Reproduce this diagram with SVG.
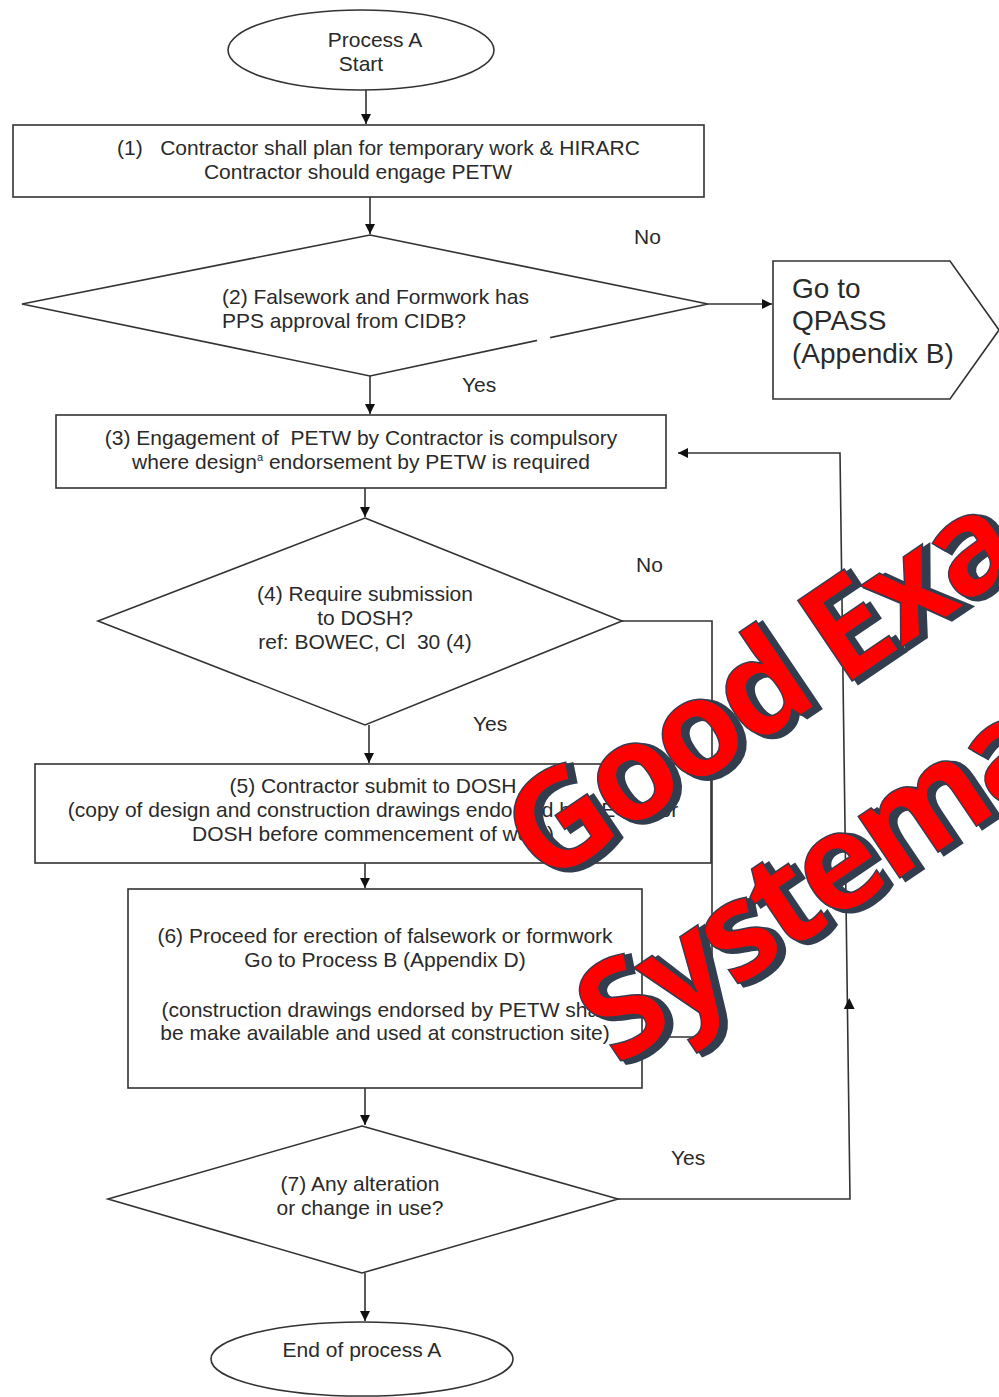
<svg xmlns="http://www.w3.org/2000/svg" width="999" height="1397" viewBox="0 0 999 1397">
<style>
.shape{fill:#fff;stroke:#333;stroke-width:1.6}
.line{fill:none;stroke:#333;stroke-width:1.6}
.t{font-family:"Liberation Sans",Arial,sans-serif;font-size:21px;fill:#2a2a2a}
.c{text-anchor:middle}
.big{font-family:"Liberation Sans",Arial,sans-serif;font-size:28px;fill:#2a2a2a}
.wm{font-family:"Open Sans","Liberation Sans",sans-serif;font-weight:bold;font-size:136px;letter-spacing:-6px}
.wms{fill:#323e4f;stroke:#323e4f;stroke-width:4}
.wmf{fill:#ff0000;stroke:#323e4f;stroke-width:1.5}
</style>
<defs>
<marker id="ah" viewBox="0 0 10 10" refX="10" refY="5" markerWidth="10" markerHeight="10" markerUnits="userSpaceOnUse" orient="auto">
<path d="M0,0 L10,5 L0,10 z" fill="#111"/>
</marker>
</defs>

<g id="connectors">
<line class="line" x1="366" y1="90" x2="366" y2="124" marker-end="url(#ah)"/>
<line class="line" x1="370" y1="197" x2="370" y2="234" marker-end="url(#ah)"/>
<line class="line" x1="708" y1="304" x2="772" y2="304" marker-end="url(#ah)"/>
<line class="line" x1="370" y1="376" x2="370" y2="414" marker-end="url(#ah)"/>
<line class="line" x1="365" y1="488" x2="365" y2="517" marker-end="url(#ah)"/>
<polyline class="line" points="622,621 712,621 712,1037 642,1037" marker-end="url(#ah)"/>
<line class="line" x1="369" y1="725" x2="369" y2="763" marker-end="url(#ah)"/>
<line class="line" x1="365" y1="863" x2="365" y2="888" marker-end="url(#ah)"/>
<line class="line" x1="365" y1="1088" x2="365" y2="1125" marker-end="url(#ah)"/>
<line class="line" x1="365" y1="1273" x2="365" y2="1321" marker-end="url(#ah)"/>
<polyline class="line" points="618,1199 850,1199 840,453 678,453" marker-end="url(#ah)"/>
<polygon points="849.2,998 843.8,1009 854.6,1009" fill="#111"/>
</g>

<g id="start">
<ellipse class="shape" cx="361" cy="50" rx="133" ry="40"/>
<text class="t c" x="375" y="47">Process A</text>
<text class="t c" x="361" y="71">Start</text>
</g>

<g id="step1">
<rect class="shape" x="13" y="125" width="691" height="72"/>
<text class="t" x="117" y="155" xml:space="preserve">(1)   Contractor shall plan for temporary work &amp; HIRARC</text>
<text class="t c" x="358" y="179">Contractor should engage PETW</text>
</g>

<g id="decision2">
<polygon class="shape" points="370,235 708,304 370,376 22,304"/>
<line x1="537" y1="340" x2="550" y2="337" stroke="#fff" stroke-width="4"/>
<text class="t" x="222" y="304">(2) Falsework and Formwork has</text>
<text class="t" x="222" y="328">PPS approval from CIDB?</text>
<text class="t" x="634" y="244">No</text>
<text class="t" x="462" y="392">Yes</text>
</g>

<g id="qpass">
<polygon class="shape" points="773,261 950,261 999,330 950,399 773,399"/>
<text class="big" x="792" y="298">Go to</text>
<text class="big" x="792" y="330">QPASS</text>
<text class="big" x="792" y="363">(Appendix B)</text>
</g>

<g id="step3">
<rect class="shape" x="56" y="415" width="610" height="73"/>
<text class="t c" x="361" y="445" xml:space="preserve">(3) Engagement of  PETW by Contractor is compulsory</text>
<text class="t c" x="361" y="469">where design<tspan font-size="11" dy="-8">a</tspan><tspan dy="8"> endorsement by PETW is required</tspan></text>
</g>

<g id="decision4">
<polygon class="shape" points="365,518 622,621 365,725 98,621"/>
<text class="t c" x="365" y="601">(4) Require submission</text>
<text class="t c" x="365" y="625">to DOSH?</text>
<text class="t c" x="365" y="649" xml:space="preserve">ref: BOWEC, Cl  30 (4)</text>
<text class="t" x="636" y="572">No</text>
<text class="t" x="473" y="731">Yes</text>
</g>

<g id="step5">
<rect class="shape" x="35" y="764" width="676" height="99"/>
<text class="t c" x="373" y="793">(5) Contractor submit to DOSH</text>
<text class="t c" x="373" y="817">(copy of design and construction drawings endorsed by PETW for</text>
<text class="t c" x="373" y="841">DOSH before commencement of work)</text>
</g>

<g id="step6">
<rect class="shape" x="128" y="889" width="514" height="199"/>
<text class="t c" x="385" y="943">(6) Proceed for erection of falsework or formwork</text>
<text class="t c" x="385" y="967">Go to Process B (Appendix D)</text>
<text class="t c" x="385" y="1017">(construction drawings endorsed by PETW shall</text>
<text class="t c" x="385" y="1040">be make available and used at construction site)</text>
</g>

<g id="decision7">
<polygon class="shape" points="362,1126 618,1199 362,1273 108,1199"/>
<text class="t c" x="360" y="1191">(7) Any alteration</text>
<text class="t c" x="360" y="1215">or change in use?</text>
<text class="t" x="671" y="1165">Yes</text>
</g>

<g id="end">
<ellipse class="shape" cx="362" cy="1359" rx="151" ry="37"/>
<text class="t c" x="362" y="1357">End of process A</text>
</g>

<g id="watermark">
<g transform="translate(545,888) rotate(-34)">
<text class="wm wms" x="4" y="5">Good Exa</text>
<text class="wm wmf" x="0" y="0">Good Exa</text>
</g>
<g transform="translate(618,1068) rotate(-34)">
<text class="wm wms" x="4" y="5">Systema</text>
<text class="wm wmf" x="0" y="0">Systema</text>
</g>
</g>
</svg>
